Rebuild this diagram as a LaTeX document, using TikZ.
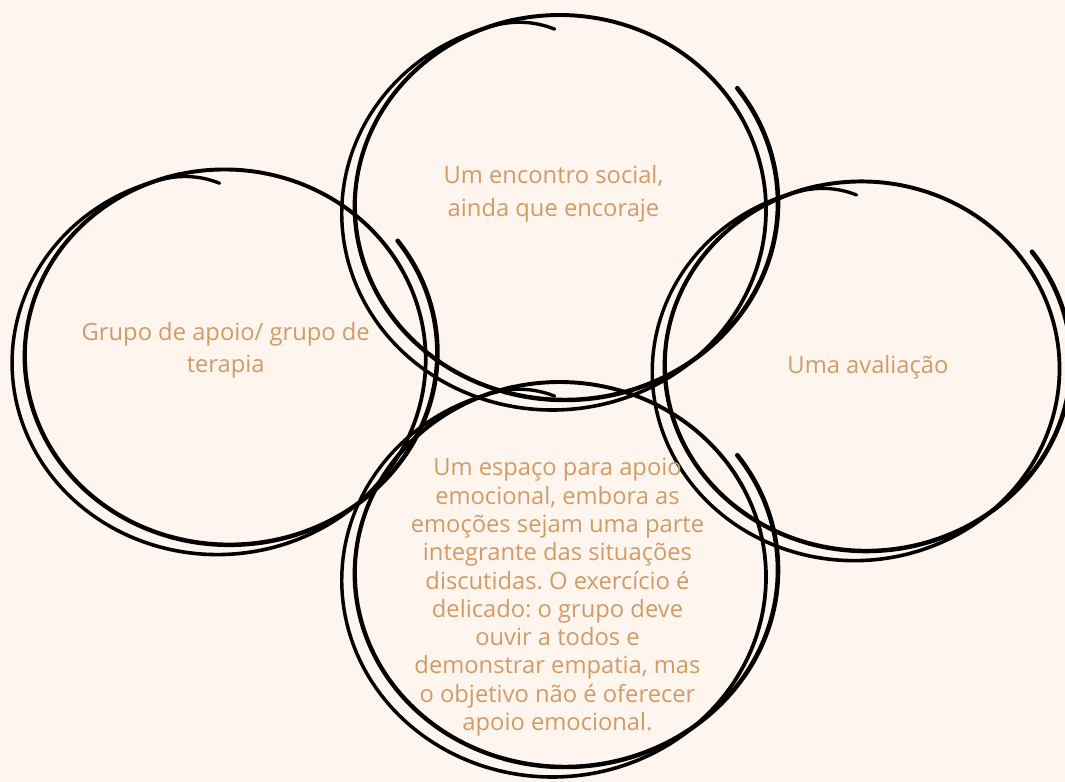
\documentclass[tikz,border=0pt]{standalone}
\usepackage{fontspec}
\setmainfont{Open Sans}
\frenchspacing
\definecolor{bg}{RGB}{255,245,239}
\definecolor{txt}{RGB}{209,155,102}
\tikzset{
  lbl/.style={text=txt, align=center, inner sep=0pt},
  declare function={
    ff(\t)=(\t-90)/360-0.5;
    gg(\t)=(\t<104)*(-10)*(1-(\t-88)/16)*(1-(\t-88)/16);
    px(\t)=ff(\t)*12.5+(209-0.5*ff(\t)+gg(\t))*cos(\t);
    py(\t)=ff(\t)*(-7)-(196.5-3*ff(\t)+gg(\t))*sin(\t);
  }
}
\newcommand\motif[3]{%
  \foreach \a/\b/\w in {88/163/2.5,163/238/2.6,238/313/2.7,313/388/2.8,388/463/2.95,463/538/3.1,538/613/3.25,613/688/3.35,688/757/3.45}{%
    \draw[line width=\w pt, line cap=round, line join=round] plot[domain=\a:\b, samples=45, smooth] ({#1+#3*px(\x)},{#2+#3*py(\x)});
  }%
}
\begin{document}
\begin{tikzpicture}[x=0.75pt,y=-0.75pt]
\fill[bg] (0,0) rectangle (1065,782);
\useasboundingbox (0,0) rectangle (1065,782);
\begin{scope}
\clip (0,0) rectangle (1065,782);
\motif{554}{213.5}{1}
\motif{554}{580.5}{1}
\motif{219}{363}{0.975}
\motif{856}{372}{0.96}
\end{scope}
\node[lbl, font=\fontsize{17.8}{24.5}\selectfont] (social) at (553.5,193.5) {Um encontro social,\\ainda que encoraje};
\node[lbl, font=\fontsize{17.8}{24}\selectfont] (grupo) at (225.7,350.7) {Grupo de apoio/ grupo de\\terapia};
\node[lbl, font=\fontsize{17.8}{24}\selectfont, anchor=base] (aval) at (868,373.3) {Uma avaliação};
\node[lbl, font=\fontsize{17.8}{21.2}\selectfont] (espaco) at (557.5,597.3) {Um espaço para apoio\\emocional, embora as\\emoções sejam uma parte\\integrante das situações\\discutidas. O exercício é\\delicado: o grupo deve\\ouvir a todos e\\demonstrar empatia, mas\\o objetivo não é oferecer\\apoio emocional.};
\end{tikzpicture}
\end{document}
